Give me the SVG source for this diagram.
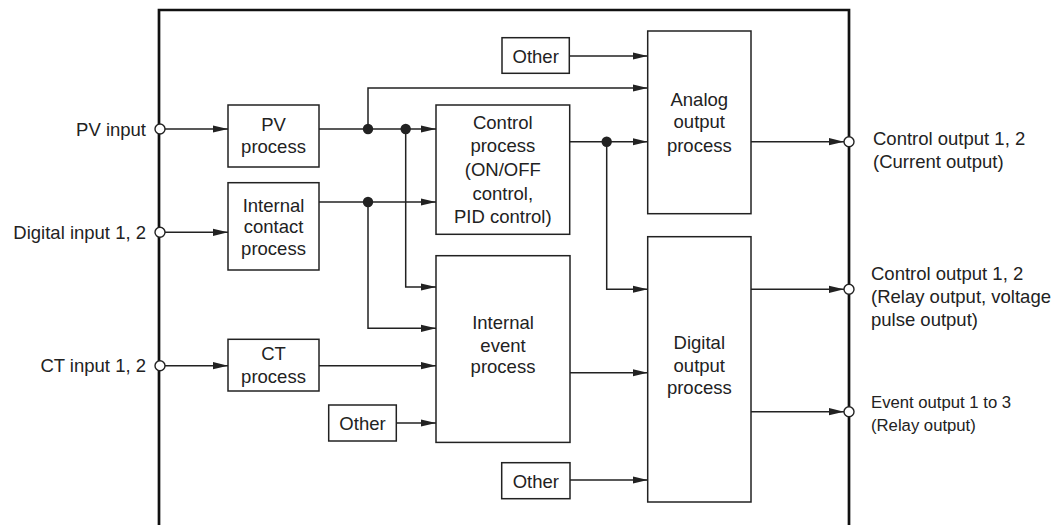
<svg xmlns="http://www.w3.org/2000/svg" width="1063" height="525" viewBox="0 0 1063 525">
<style>
  .box { fill: #fff; stroke: #222; stroke-width: 1.5; }
  .t { font-family: "Liberation Sans", Arial, sans-serif; font-size: 18.5px; fill: #222; text-anchor: middle; }
  .lbl { font-family: "Liberation Sans", Arial, sans-serif; font-size: 18.5px; fill: #222; }
  .sm { font-size: 16.7px; }
  .c { fill: none; stroke: #222; stroke-width: 1.5; }
  .dot { fill: #222; }
  .port { fill: #fff; stroke: #222; stroke-width: 1.4; }
</style>
<defs>
  <marker id="arr" markerUnits="userSpaceOnUse" markerWidth="16" markerHeight="8" refX="15" refY="4" orient="auto">
    <path d="M0,0.4 L15,4 L0,7.6 Z" fill="#222"/>
  </marker>
</defs>
<rect width="1063" height="525" fill="#fff"/>

<g id="frame">
  <path d="M159,525 V10 H849 V525" fill="none" stroke="#111" stroke-width="2.7"/>
</g>

<g id="connectors">
  <path class="c" d="M165,129 H228" marker-end="url(#arr)"/>
  <path class="c" d="M165,232.3 H228" marker-end="url(#arr)"/>
  <path class="c" d="M165,365.7 H228" marker-end="url(#arr)"/>
  <path class="c" d="M319,129 H436" marker-end="url(#arr)"/>
  <path class="c" d="M368,129 V88 H647.7" marker-end="url(#arr)"/>
  <path class="c" d="M405.7,129 V287 H436" marker-end="url(#arr)"/>
  <path class="c" d="M319,202 H436" marker-end="url(#arr)"/>
  <path class="c" d="M368,202 V328.3 H436" marker-end="url(#arr)"/>
  <path class="c" d="M319,365.7 H436" marker-end="url(#arr)"/>
  <path class="c" d="M396.3,423 H436" marker-end="url(#arr)"/>
  <path class="c" d="M569.3,56 H647.7" marker-end="url(#arr)"/>
  <path class="c" d="M569.7,141.7 H647.7" marker-end="url(#arr)"/>
  <path class="c" d="M606.7,141.7 V289.3 H647.7" marker-end="url(#arr)"/>
  <path class="c" d="M570,372.7 H647.7" marker-end="url(#arr)"/>
  <path class="c" d="M570,480 H647.7" marker-end="url(#arr)"/>
  <path class="c" d="M751,141.7 H844" marker-end="url(#arr)"/>
  <path class="c" d="M751,289.3 H844" marker-end="url(#arr)"/>
  <path class="c" d="M751,411.7 H844" marker-end="url(#arr)"/>
  <circle class="dot" cx="368" cy="129" r="5.2"/>
  <circle class="dot" cx="405.7" cy="129" r="5.2"/>
  <circle class="dot" cx="368" cy="202" r="5.2"/>
  <circle class="dot" cx="606.7" cy="141.7" r="5.2"/>
</g>

<g id="ports">
  <circle class="port" cx="160" cy="129" r="5"/>
  <circle class="port" cx="160" cy="232.3" r="5"/>
  <circle class="port" cx="160" cy="365.7" r="5"/>
  <circle class="port" cx="849" cy="141.7" r="5"/>
  <circle class="port" cx="849" cy="289.3" r="5"/>
  <circle class="port" cx="849" cy="411.7" r="5"/>
</g>

<g id="labels">
  <text class="lbl" x="146" y="135.5" text-anchor="end">PV input</text>
  <text class="lbl" x="146" y="238.8" text-anchor="end">Digital input 1, 2</text>
  <text class="lbl" x="146" y="372.2" text-anchor="end">CT input 1, 2</text>
  <text class="lbl" x="873" y="145">Control output 1, 2</text>
  <text class="lbl" x="873" y="167.7">(Current output)</text>
  <text class="lbl" x="871" y="280">Control output 1, 2</text>
  <text class="lbl" x="871" y="303">(Relay output, voltage</text>
  <text class="lbl" x="871" y="326">pulse output)</text>
  <text class="lbl sm" x="871" y="408.3">Event output 1 to 3</text>
  <text class="lbl sm" x="871" y="430.7">(Relay output)</text>
</g>

<g id="pv-process">
  <rect class="box" x="228" y="105" width="91" height="62"/>
  <text class="t" x="273.5" y="131">PV</text>
  <text class="t" x="273.5" y="152.7">process</text>
</g>
<g id="internal-contact-process">
  <rect class="box" x="228" y="182.7" width="91" height="87.3"/>
  <text class="t" x="273.5" y="211.7">Internal</text>
  <text class="t" x="273.5" y="233.3">contact</text>
  <text class="t" x="273.5" y="255">process</text>
</g>
<g id="ct-process">
  <rect class="box" x="228" y="339.3" width="91" height="51.7"/>
  <text class="t" x="273.5" y="360">CT</text>
  <text class="t" x="273.5" y="382.7">process</text>
</g>
<g id="other-1">
  <rect class="box" x="502" y="37.7" width="67.3" height="35.6"/>
  <text class="t" x="535.7" y="63">Other</text>
</g>
<g id="other-2">
  <rect class="box" x="328.7" y="405" width="67.6" height="36"/>
  <text class="t" x="362.5" y="430">Other</text>
</g>
<g id="other-3">
  <rect class="box" x="501.7" y="462.7" width="68.3" height="36"/>
  <text class="t" x="535.8" y="487.5">Other</text>
</g>
<g id="control-process">
  <rect class="box" x="436" y="105" width="133.7" height="129.3"/>
  <text class="t" x="502.8" y="128.5">Control</text>
  <text class="t" x="502.8" y="152">process</text>
  <text class="t" x="502.8" y="176">(ON/OFF</text>
  <text class="t" x="502.8" y="199.5">control,</text>
  <text class="t" x="502.8" y="223">PID control)</text>
</g>
<g id="internal-event-process">
  <rect class="box" x="436" y="255.7" width="134" height="186.7"/>
  <text class="t" x="503" y="329.3">Internal</text>
  <text class="t" x="503" y="351.7">event</text>
  <text class="t" x="503" y="373.3">process</text>
</g>
<g id="analog-output-process">
  <rect class="box" x="647.7" y="31" width="103.3" height="182.7"/>
  <text class="t" x="699.3" y="106">Analog</text>
  <text class="t" x="699.3" y="128.3">output</text>
  <text class="t" x="699.3" y="151.7">process</text>
</g>
<g id="digital-output-process">
  <rect class="box" x="647.7" y="236.7" width="103.3" height="265.3"/>
  <text class="t" x="699.3" y="349.3">Digital</text>
  <text class="t" x="699.3" y="371.7">output</text>
  <text class="t" x="699.3" y="394.3">process</text>
</g>
</svg>
